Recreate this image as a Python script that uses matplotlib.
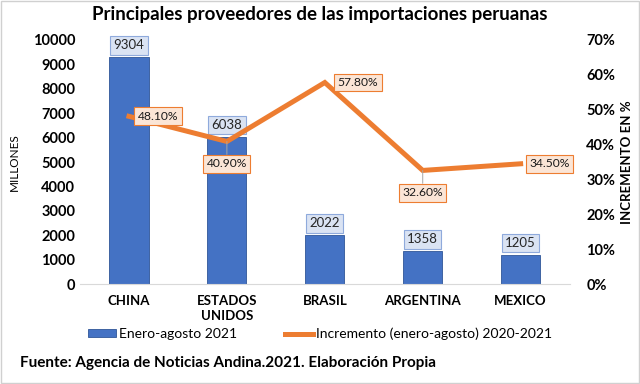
import numpy as np
import matplotlib.pyplot as plt
from matplotlib.patches import Rectangle
from matplotlib.ticker import PercentFormatter

plt.rcParams['font.family'] = ['Lato', 'DejaVu Sans']

# datos
paises = ['CHINA', 'ESTADOS\nUNIDOS', 'BRASIL', 'ARGENTINA', 'MEXICO']
importaciones = [9304, 6038, 2022, 1358, 1205]
incremento = [48.1, 40.9, 57.8, 32.6, 34.5]

azul = '#4472c4'
naranja = '#ed7d31'

fig = plt.figure(figsize=(6.4, 3.84), dpi=100)
fig.patches.append(Rectangle((0.002, 0.003), 0.996, 0.994, transform=fig.transFigure,
                             fill=False, edgecolor='#d0d0d0', linewidth=1))
ax = fig.add_axes([0.125, 0.26, 0.765, 0.636])
ax2 = ax.twinx()

x = np.arange(len(paises))
barras = ax.bar(x, importaciones, width=0.4, color=azul, edgecolor='#2f5597',
                linewidth=0.6, label='Enero-agosto 2021', zorder=2)
ax.set_xlim(-0.5, len(paises) - 0.5)
ax.set_ylim(0, 10000)
ax.set_yticks(range(0, 10001, 1000))
ax.set_xticks(x)
ax.set_xticklabels(paises, fontsize=9.5, fontweight='bold', linespacing=1.3)
ax.tick_params(axis='y', labelsize=10.5, length=0)
ax.tick_params(axis='x', length=0, pad=8)
for lab in ax.get_yticklabels():
    lab.set_fontweight('bold')
ax.set_ylabel('MILLONES', fontsize=8.5, labelpad=9)
for s in ['top', 'right', 'left']:
    ax.spines[s].set_visible(False)
ax.spines['bottom'].set_color('#d9d9d9')

for xi, v in zip(x, importaciones):
    ax.annotate(str(v), (xi, v), xytext=(0, 4), textcoords='offset points',
                ha='center', va='bottom', fontsize=9.5, color='#262626',
                bbox=dict(boxstyle='square,pad=0.25', facecolor='#dae3f3',
                          edgecolor='#8faadc', linewidth=0.8), zorder=5)

linea, = ax2.plot(x, incremento, color=naranja, linewidth=3.6,
                  solid_joinstyle='miter', label='Incremento (enero-agosto) 2020-2021', zorder=3)
ax2.set_ylim(0, 70)
ax2.set_yticks(range(0, 71, 10))
ax2.yaxis.set_major_formatter(PercentFormatter(decimals=0))
ax2.tick_params(axis='y', labelsize=10.5, length=0, pad=12)
for lab in ax2.get_yticklabels():
    lab.set_fontweight('bold')
ax2.set_ylabel('INCREMENTO EN %', fontsize=9.5, fontweight='bold', labelpad=4)
for s in ['top', 'right', 'left', 'bottom']:
    ax2.spines[s].set_visible(False)

# posiciones de etiquetas (offset en puntos)
offsets = [(21, 0), (0, -16), (24, 0), (0, -16), (21, 0)]
for xi, v, off in zip(x, incremento, offsets):
    con = None
    if off[0] == 0:
        con = dict(arrowstyle='-', color='#a6a6a6', linewidth=0.7, shrinkA=0, shrinkB=0)
    ax2.annotate('%.2f%%' % v, (xi, v), xytext=off, textcoords='offset points',
                 ha='center', va='center', fontsize=8.7, color='#1a1a1a',
                 bbox=dict(boxstyle='square,pad=0.28', facecolor='#fbe5d6',
                           edgecolor=naranja, linewidth=0.8),
                 arrowprops=con, zorder=6)

fig.suptitle('Principales proveedores de las importaciones peruanas',
             x=0.5, y=0.985, fontsize=13.5, fontweight='bold')

fig.legend([barras, linea], ['Enero-agosto 2021', 'Incremento (enero-agosto) 2020-2021'],
           loc='center', bbox_to_anchor=(0.5, 0.13), ncol=2, frameon=False,
           fontsize=10, handlelength=2, handleheight=0.5, columnspacing=3.5, handletextpad=0.2)

fig.text(0.032, 0.055, 'Fuente: Agencia de Noticias Andina.2021. Elaboración Propia',
         fontsize=11, fontweight='bold', va='center')

fig.savefig('out.png', dpi=100)
